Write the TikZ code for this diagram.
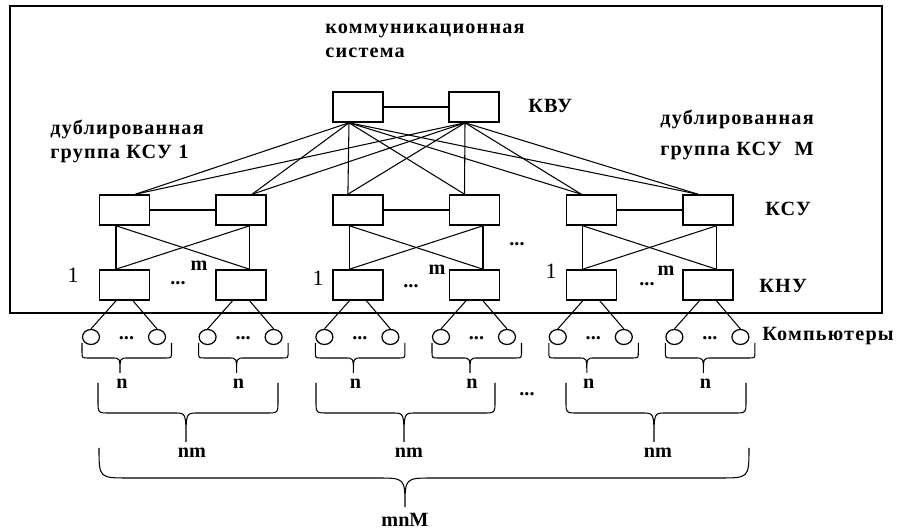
\documentclass[tikz,border=0pt]{standalone}
\usepackage{fontspec}
\setmainfont{Liberation Serif}
\usetikzlibrary{shapes.geometric}
\tikzset{
    unit/.style={draw,line width=0.9pt,minimum width=1cm,minimum height=0.6cm,inner sep=0pt},
    pc/.style={draw,ellipse,line width=0.7pt,minimum width=3.4mm,minimum height=3mm,inner sep=0pt},
    lbl/.style={font=\fontsize{11.5}{13.2}\selectfont\bfseries,inner sep=0pt},
    word/.style={lbl,font=\fontsize{11.5}{13.2}\selectfont\bfseries\addfontfeature{LetterSpace=6}},
    link/.style={line width=0.6pt}
}
\newcommand\curly[8]{%
    \draw[link] (#1,#4) -- (#1,#5-#7) .. controls (#1,#5) .. (#1+#7,#5) -- (#3-#8,#5) .. controls (#3,#5) .. (#3,#6)
        (#2,#4) -- (#2,#5-#7) .. controls (#2,#5) .. (#2-#7,#5) -- (#3+#8,#5) .. controls (#3,#5) .. (#3,#6);}
\begin{document}
\begin{tikzpicture}[x=0.02cm,y=-0.02cm]
            \useasboundingbox (0,0) rectangle (897,530);
            \draw[line width=0.8pt] (10,6) rectangle (882,313);
            \node[word,align=left,anchor=north west] (title) at (325,24) {коммуникационная\\система};
            \node[unit] (kvu1) at (358,107) {};
            \node[unit] (kvu2) at (474,107) {};
            \draw[line width=0.9pt] (kvu1.east) -- (kvu2.west);
            \node[word,anchor=base west] (kvulbl) at (528,113) {КВУ};
            \node[word,align=left,anchor=north west] (grp1) at (50,120) {дублированная\\группа КСУ 1};
            \node[word,align=left,anchor=north west] (grpM) at (660,110) {дублированная\\[4.5pt]группа КСУ \ М};
            \node[word,anchor=base west] (ksulbl) at (765,216) {КСУ};
            \node[word,anchor=base west] (knulbl) at (759,293) {КНУ};
            \node[word,anchor=base west] (pclbl) at (762,341) {Компьютеры};
            \foreach \g in {0,1,2} {
                \foreach \k in {0,1} {
                    \pgfmathsetmacro\cx{124.5+233.4*\g+116.6*\k}
                    \node[unit] (ksu\g\k) at (\cx,210) {};
                    \node[unit] (knu\g\k) at (\cx,285) {};
                    \node[pc] (pc\g\k a) at (\cx-33.5,337) {};
                    \node[pc] (pc\g\k b) at (\cx+32.5,337) {};
                    \node[lbl] (dots\g\k) at (\cx+2,338) {...};
                    \draw[link] ([xshift=-1.7mm]knu\g\k.south) -- (pc\g\k a.north);
                    \draw[link] ([xshift=1.7mm]knu\g\k.south) -- (pc\g\k b.north);
                    \curly{\cx-42.5}{\cx+47}{\cx-4.5}{343}{358}{373}{6}{8}
                    \node[lbl] (n\g\k) at (\cx-2.5,384) {n};
                    \pgfmathsetmacro\dx{\g==0 ? 2.2 : -2}
                    \draw[link] ([xshift=-1.8mm]kvu1.south) -- ([xshift=\dx mm]ksu\g\k.north);
                    \draw[link] ([xshift=-1.8mm]kvu2.south) -- ([xshift=\dx mm]ksu\g\k.north);
                }
                \draw[link] (ksu\g0.east) -- (ksu\g1.west);
                \draw[link] ([xshift=-1.7mm]ksu\g0.south) -- ([xshift=-1.7mm]knu\g0.north);
                \draw[link] ([xshift=1.7mm]ksu\g1.south) -- ([xshift=1.7mm]knu\g1.north);
                \draw[link] ([xshift=-1.7mm]ksu\g0.south) -- ([xshift=1.7mm]knu\g1.north);
                \draw[link] ([xshift=1.7mm]ksu\g1.south) -- ([xshift=-1.7mm]knu\g0.north);
            }
            \foreach \g/\ox/\oy/\mx/\my/\px/\py in {0/73/275/199/266/178/283, 1/318/278/437/270/411/286, 2/551/271/666/271/647/284} {
                \node[font=\fontsize{12.5}{14}\selectfont,inner sep=0pt] (one\g) at (\ox,\oy) {1};
                \node[lbl] (m\g) at (\mx,\my) {m};
                \node[lbl] (mid\g) at (\px,\py) {...};
            }
            \node[lbl] (gapksu) at (517,244) {...};
            \foreach \g/\a/\b/\t/\lx in {0/98/278/186/192, 1/316/495/404/409, 2/566/746/654/658} {
                \curly{\a}{\b}{\t}{383}{413}{442}{12}{11}
                \node[lbl] (nm\g) at (\lx,453) {nm};
            }
            \node[lbl] (gapnm) at (527,394) {...};
            \curly{99}{749}{405}{448}{478}{507}{30}{28}
            \node[lbl] (total) at (405,520) {mnM};
        \end{tikzpicture}
\end{document}
